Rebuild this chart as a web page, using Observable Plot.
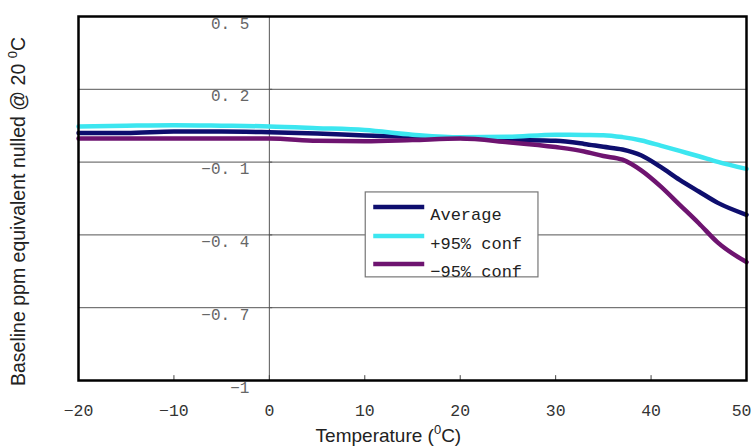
<!DOCTYPE html>
<html>
<head>
<meta charset="utf-8">
<script src="https://cdn.jsdelivr.net/npm/d3@7"></script>
<script src="https://cdn.jsdelivr.net/npm/@observablehq/plot@0.6"></script>
<style>
  html, body { margin: 0; padding: 0; background: #fff; }
  #chart { width: 751px; height: 447px; position: relative; overflow: hidden; }
</style>
</head>
<body>
<div id="chart"></div>
<script>
// ---- data ----
const temps    = [-20, -15, -10, -5, 0, 5, 10, 15, 20, 25, 30, 33, 35, 37, 39, 41, 43, 45, 47, 50];
const average  = [0.020, 0.020, 0.026, 0.026, 0.023, 0.018, 0.010, 0.004, 0.000, -0.008, -0.012, -0.025, -0.037, -0.048, -0.073, -0.120, -0.173, -0.221, -0.268, -0.317];
const upper95  = [0.047, 0.050, 0.052, 0.050, 0.047, 0.040, 0.032, 0.013, 0.002, 0.004, 0.013, 0.012, 0.011, 0.003, -0.011, -0.032, -0.054, -0.076, -0.099, -0.128];
const lower95  = [-0.003, -0.003, -0.003, -0.003, -0.003, -0.012, -0.014, -0.009, -0.003, -0.018, -0.038, -0.056, -0.075, -0.090, -0.135, -0.200, -0.276, -0.352, -0.432, -0.512];

const seriesNames  = ["Average", "+95% conf", "\u221295% conf"];
const seriesColors = ["#0e0e6e", "#3ce6f0", "#6e1470"];

const xTicks      = [-20, -10, 0, 10, 20, 30, 40, 50];
const xTickLabels = ["\u221220", "\u221210", "0", "10", "20", "30", "40", "50"];
const yTicks      = [0.5, 0.2, -0.1, -0.4, -0.7, -1];
const yTickLabels = ["0. 5", "0. 2", "\u22120. 1", "\u22120. 4", "\u22120. 7", "\u22121"];

const seriesValues = [average, upper95, lower95];
const rows = seriesValues.flatMap((vals, s) =>
  temps.map((t, i) => ({ t, v: vals[i], series: seriesNames[s] })));

const W = 751, H = 447;
const xLast = xTicks[xTicks.length - 1];
const plot = Plot.plot({
  width: W, height: H,
  marginLeft: 78, marginRight: 5, marginTop: 16, marginBottom: 67,
  x: { domain: [-20, 50], axis: null },
  y: { domain: [-1, 0.5], axis: null },
  color: { domain: seriesNames, range: seriesColors },
  style: { fontFamily: "Liberation Mono", background: "#fff", overflow: "visible" },
  marks: [
    Plot.ruleY(yTicks.filter(v => v > -1 && v < 0.5), { stroke: "#555", strokeWidth: 1 }),
    Plot.ruleX([0], { stroke: "#555", strokeWidth: 1 }),
    Plot.ruleY(yTicks, { x1: 0, x2: 0.35, stroke: "#555" }),
    Plot.ruleX(xTicks, { y1: -1, y2: -0.98, stroke: "#444" }),
    Plot.line(rows, { x: "t", y: "v", z: "series", stroke: "series", strokeWidth: 4.5, curve: "monotone-x" }),
    Plot.frame({ stroke: "#000", strokeWidth: 2.5 }),
    Plot.text(xTicks.filter(d => d !== xLast), { x: d => d, y: -1, dy: 30, text: d => xTickLabels[xTicks.indexOf(d)], fontSize: 16.5, fill: "#333", textAnchor: "middle" }),
    Plot.text([xLast], { x: d => d, y: -1, dy: 30, dx: 5, text: d => xTickLabels[xTicks.indexOf(d)], fontSize: 16.5, fill: "#333", textAnchor: "end" }),
    Plot.text(yTicks, { x: 0, y: d => d, dx: -20, dy: 7, text: (d, i) => yTickLabels[i], fontSize: 16, fill: "#666", textAnchor: "end" })
  ]
});
document.getElementById("chart").appendChild(plot);

// ---- axis titles and legend, added to the same SVG ----
const svg = d3.select(plot);
const sx = plot.scale("x"), sy = plot.scale("y");

const ylab = svg.append("text")
  .attr("transform", `translate(25, ${sy.apply(-1) + 6}) rotate(-90)`)
  .attr("text-anchor", "start")
  .style("font-family", "Liberation Sans, Arial, sans-serif")
  .style("font-size", "19.5px")
  .attr("fill", "#222");
ylab.append("tspan").text("Baseline ppm equivalent nulled @ 20 ");
ylab.append("tspan").attr("dy", -8).style("font-size", "13px").text("0");
ylab.append("tspan").attr("dy", 8).text("C");

const xlab = svg.append("text")
  .attr("x", sx.apply(4.9)).attr("y", 442)
  .attr("text-anchor", "start")
  .style("font-family", "Liberation Sans, Arial, sans-serif")
  .style("font-size", "19px")
  .attr("fill", "#222");
xlab.append("tspan").text("Temperature (");
xlab.append("tspan").attr("dy", -8).style("font-size", "13px").text("0");
xlab.append("tspan").attr("dy", 8).text("C)");

// legend box placed inside the plot area
const lx0 = sx.apply(10.1), lx1 = sx.apply(28.2);
const ly0 = sy.apply(-0.225), ly1 = sy.apply(-0.575);
const lg = svg.append("g").attr("text-anchor", "start");
lg.append("rect").attr("x", lx0).attr("y", ly0).attr("width", lx1 - lx0).attr("height", ly1 - ly0)
  .attr("fill", "#fff").attr("stroke", "#777").attr("stroke-width", 1.2);
const rowY = [15, 44, 72];
seriesNames.forEach((name, i) => {
  lg.append("line").attr("x1", lx0 + 8).attr("x2", lx0 + 59)
    .attr("y1", ly0 + rowY[i]).attr("y2", ly0 + rowY[i])
    .attr("stroke", seriesColors[i]).attr("stroke-width", 4.5);
  lg.append("text").attr("x", lx0 + 65).attr("y", ly0 + rowY[i] + 13)
    .attr("text-anchor", "start")
    .style("font-family", "Liberation Mono, monospace").style("font-size", "17px")
    .attr("fill", "#222").text(name);
});
</script>
</body>
</html>
